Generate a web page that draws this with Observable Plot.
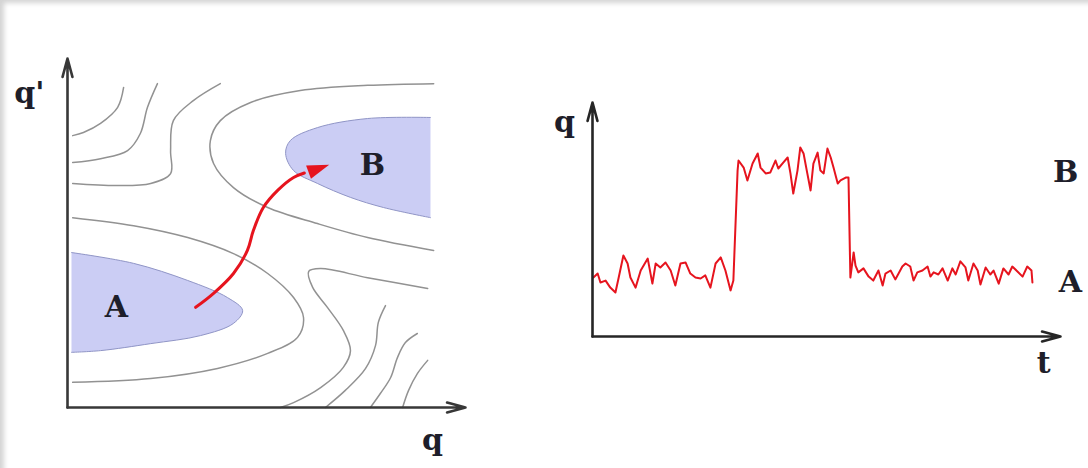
<!DOCTYPE html>
<html>
<head>
<meta charset="utf-8">
<script src="https://cdn.jsdelivr.net/npm/d3@7"></script>
<script src="https://cdn.jsdelivr.net/npm/@observablehq/plot@0.6"></script>
<style>
  html, body { margin: 0; padding: 0; background: #fff; }
  #frame {
    position: relative; width: 1088px; height: 468px; overflow: hidden; background: #fff;
    box-shadow: inset 6px 5px 5px -2px #d4d4d4;
  }
  #frame svg { position: absolute; top: 0; }
</style>
</head>
<body>
<div id="frame"></div>
<script>
// ---- Configuration space (q, q'), both axes on 0..100 ----
// Stable basins, as outlines [q, q']
const basinA = [[1,44.4],[16.6,41.3],[30.2,36.4],[40.2,31.5],[44.0,27.8],[41.7,24.1],[33.4,20.6],[20.9,18.3],[8.3,16.3],[1,15.8]];
const basinB = [[91.2,83.1],[75.4,82.8],[62.8,80.2],[56.0,76.5],[54.8,72.8],[56.8,67.9],[62.8,64.2],[71.1,60.2],[79.4,57.3],[91.2,54.4]];

// Energy contour lines [q, q']
const contourAroundA = [[1.3,54.4],[16.6,52.1],[30.2,48.7],[41.7,44.1],[50.3,38.4],[56.8,31.5],[59.3,25.8],[57.8,20.1],[50.3,15.5],[37.7,11.2],[20.9,8.3],[1.3,7.2]];
const contourAroundB = [[92.0,92.8],[75.4,92.3],[58.5,90.8],[46.0,87.4],[38.4,82.2],[35.9,76.5],[36.7,69.9],[41.7,63.0],[50.3,57.3],[62.8,52.7],[75.4,48.7],[92.0,45.0]];
const contourLowRight1 = [[90.5,34.1],[75.4,37.2],[63.6,39.8],[60.6,39.0],[61.6,34.4],[65.3,28.7],[69.3,22.1],[71.1,16.3],[69.3,11.5],[63.6,5.7],[56.8,1.4],[53.5,0]];
const contourLowRight2 = [[79.9,29.2],[78.1,24.4],[77.4,17.8],[74.9,11.2],[69.8,4.9],[64.8,0]];
const contourLowRight3 = [[87.9,21.2],[84.9,18.6],[82.9,14.3],[81.2,8.6],[78.6,4.0],[76.1,0]];
const contourLowRight4 = [[90.5,13.5],[87.9,9.7],[85.7,4.9],[84.2,0]];
const contourTopLeft1 = [[14.1,91.7],[12.6,86.0],[8.3,81.4],[4.0,78.8],[1.3,77.9]];
const contourTopLeft2 = [[22.6,92.8],[20.1,86.0],[18.3,78.5],[15.1,73.6],[8.3,71.3],[1.3,70.2]];
const contourTopLeft3 = [[38.4,92.8],[31.7,88.0],[26.6,82.2],[25.9,73.6],[25.9,67.0],[20.9,64.2],[12.6,63.6],[1.3,64.2]];

// Reactive path from A to B, and its head [q, q', heading in degrees]
const transitionPath = [[32.2,28.7],[36.7,32.7],[41.7,38.4],[45.2,45.0],[46.7,50.7],[49.2,57.3],[52.8,62.2],[56.8,65.9],[59.5,67.2]];
const transitionHead = [[62.4,68.2,70]];

const leftAxes = [[0,0,0,100],[0,0,100,0]];
const leftLabels = [["q'",-9.6,89.9],["q",91.7,-9.3],["A",12.3,28.7],["B",76.6,69.4]];

// ---- Time series q(t), t on 0..100, q on 0..100 ----
const trajectory = [
  [0.2,25.2],[1.1,26.9],[1.7,23.1],[2.8,23.9],[3.8,20.9],[4.9,18.8],[5.6,25.2],[6.6,34.6],[7.5,31.2],[8.1,25.2],
  [9.2,20.9],[10.3,28.2],[11.8,33.3],[12.8,22.6],[13.5,31.2],[14.5,29.5],[15.6,31.6],[16.7,28.2],[17.7,21.8],[18.8,31.2],
  [19.9,31.6],[20.9,26.9],[22.0,25.2],[23.1,24.8],[24.1,26.1],[25.2,20.9],[26.3,31.2],[27.4,33.8],[28.4,28.2],[29.5,19.7],
  [30.1,23.9],[31.0,70.9],[31.2,75.2],[32.3,72.2],[33.1,66.7],[34.2,73.9],[35.3,78.2],[35.9,72.2],[37.0,69.7],[38.0,70.1],
  [39.1,75.2],[39.7,71.8],[40.8,74.4],[41.7,76.5],[42.3,69.7],[42.9,61.1],[43.8,70.9],[44.4,80.8],[45.1,78.2],[45.9,69.7],
  [46.6,62.4],[47.2,73.9],[48.1,78.6],[48.7,70.9],[49.4,69.7],[50.2,80.3],[50.9,76.5],[51.5,72.2],[52.4,65.4],[53.0,66.7],
  [54.1,67.9],[54.7,67.9],[55.1,25.2],[55.8,35.9],[56.2,30.3],[56.8,27.4],[57.9,29.1],[59.0,25.6],[60.0,23.9],[61.1,28.2],
  [62.0,21.8],[62.6,26.9],[63.7,28.2],[64.7,24.4],[65.4,26.9],[66.2,29.9],[66.9,31.2],[67.9,29.9],[68.6,23.9],[69.4,27.4],
  [70.5,28.2],[71.6,29.9],[72.2,25.6],[72.9,27.4],[73.9,26.5],[74.8,29.1],[75.9,23.9],[76.9,29.1],[77.6,26.5],[78.6,32.1],
  [79.7,29.5],[80.3,23.9],[81.4,31.2],[82.3,28.2],[82.9,22.2],[84.0,29.5],[85.0,26.5],[85.7,28.2],[86.8,22.6],[87.8,29.1],
  [88.9,26.5],[89.7,29.9],[90.8,27.8],[91.9,25.6],[92.9,29.9],[93.8,28.2],[94.0,23.1]
];
const rightAxes = [[0,0,0,100],[0,0,100,0]];
const rightLabels = [["q",-6.0,91.7],["t",96.4,-11.3],["B",101.1,70.2],["A",102.1,23.2]];

// ---- Drawing ----
const serif = "'DejaVu Serif', 'Liberation Serif', serif";
const contourInk = "#929292";
const basinFill = "#cbcdf4";
const basinEdge = "#9095c6";
const red = "#e6141e";

// Narrow filled arrowhead pointing up before rotation
const arrowHeadSymbol = {
  draw(ctx, size) {
    const s = Math.sqrt(size);
    ctx.moveTo(0, -s);
    ctx.lineTo(s * 0.5, s * 0.55);
    ctx.lineTo(-s * 0.5, s * 0.55);
    ctx.closePath();
  }
};

const contourMark = (d) => Plot.line(d, {curve: "catmull-rom", stroke: contourInk, strokeWidth: 1.5});
const axisMarks = (d, ink) => Plot.arrow(d, {
  x1: d => d[0], y1: d => d[1], x2: d => d[2], y2: d => d[3],
  stroke: ink, strokeWidth: 2.6, headLength: 11, headAngle: 30, bend: 0
});
const labelMarks = (d) => Plot.text(d, {
  text: d => d[0], x: d => d[1], y: d => d[2],
  fontFamily: serif, fontWeight: "bold", fontSize: 30, fill: "#1e1e2a"
});

const left = Plot.plot({
  width: 520, height: 468,
  marginLeft: 67, marginRight: 55, marginTop: 58, marginBottom: 61,
  x: {domain: [0, 100], axis: null},
  y: {domain: [0, 100], axis: null},
  style: {background: "transparent", overflow: "visible"},
  marks: [
    Plot.line(basinA, {curve: "catmull-rom", fill: basinFill, stroke: basinEdge, strokeWidth: 1}),
    Plot.line(basinB, {curve: "catmull-rom", fill: basinFill, stroke: basinEdge, strokeWidth: 1}),
    contourMark(contourAroundA),
    contourMark(contourAroundB),
    contourMark(contourLowRight1),
    contourMark(contourLowRight2),
    contourMark(contourLowRight3),
    contourMark(contourLowRight4),
    contourMark(contourTopLeft1),
    contourMark(contourTopLeft2),
    contourMark(contourTopLeft3),
    Plot.line(transitionPath, {curve: "catmull-rom", stroke: red, strokeWidth: 3}),
    Plot.dot(transitionHead, {x: d => d[0], y: d => d[1], rotate: d => d[2], symbol: arrowHeadSymbol, r: 8, fill: red, stroke: "none"}),
    axisMarks(leftAxes, "#383838"),
    labelMarks(leftLabels)
  ]
});
left.style.left = "0px";

const right = Plot.plot({
  width: 568, height: 468,
  marginLeft: 72, marginRight: 28, marginTop: 102, marginBottom: 132,
  x: {domain: [0, 100], axis: null},
  y: {domain: [0, 100], axis: null},
  style: {background: "transparent", overflow: "visible"},
  marks: [
    Plot.line(trajectory, {stroke: red, strokeWidth: 2, strokeLinejoin: "round"}),
    axisMarks(rightAxes, "#262626"),
    labelMarks(rightLabels)
  ]
});
right.style.left = "520px";

document.getElementById("frame").append(left, right);
</script>
</body>
</html>
